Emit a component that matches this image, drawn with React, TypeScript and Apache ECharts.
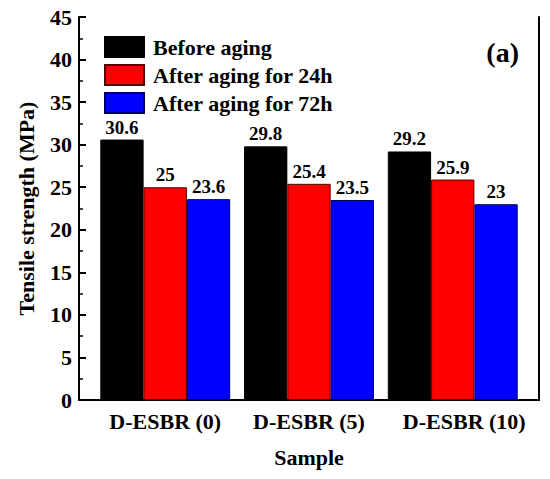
import React, { useEffect, useRef } from "react";
import * as echarts from "echarts";

const categories = ["D-ESBR (0)", "D-ESBR (5)", "D-ESBR (10)"];
const positions = [1, 2, 3];
const beforeAging = [30.6, 29.8, 29.2];
const after24h = [25, 25.4, 25.9];
const after72h = [23.6, 23.5, 23];
const seriesNames = ["Before aging", "After aging for 24h", "After aging for 72h"];
const seriesColors = ["#000000", "#ff0000", "#0000ff"];
const seriesBorders = ["#000000", "#5a0000", "#00005a"];

const FONT = "'Times New Roman', 'Liberation Serif', serif";

export default function App() {
  const ref = useRef<HTMLDivElement>(null);
  useEffect(() => {
    if (!ref.current) return;
    const chart = echarts.init(ref.current, null, { renderer: "svg" });
    const values = [beforeAging, after24h, after72h];
    const axisLine = { show: true, lineStyle: { color: "#000", width: 2 } };
    chart.setOption({
      animation: false,
      backgroundColor: "#fff",
      textStyle: { fontFamily: FONT, fontWeight: "bold", color: "#000" },
      title: {
        text: "(a)",
        right: 26,
        top: 33,
        textStyle: { fontFamily: FONT, fontWeight: "bold", fontSize: 28, color: "#000" },
      },
      legend: {
        orient: "vertical",
        left: 99,
        top: 31,
        itemWidth: 39,
        itemHeight: 20,
        itemGap: 6,
        icon: "rect",
        data: seriesNames,
        textStyle: {
          fontFamily: FONT,
          fontWeight: "bold",
          fontSize: 22,
          color: "#000",
          padding: [0, 0, 0, 4],
        },
      },
      grid: { left: 79, right: 11, top: 17, bottom: 79, containLabel: false },
      xAxis: [
        {
          type: "value",
          min: 0.4,
          max: 3.6,
          position: "bottom",
          axisLine,
          axisTick: { show: false },
          splitLine: { show: false },
          axisLabel: {
            customValues: positions,
            margin: 10,
            fontFamily: FONT,
            fontWeight: "bold",
            fontSize: 22,
            color: "#000",
            formatter: (v: number) => {
              const i = positions.indexOf(Math.round(v));
              if (i === 2) return "{s|" + categories[i] + "}";
              return i >= 0 ? categories[i] : "";
            },
            rich: {
              s: {
                fontFamily: FONT,
                fontWeight: "bold",
                fontSize: 22,
                color: "#000",
                padding: [0, 0, 0, 23],
              },
            },
          },
          name: "Sample",
          nameLocation: "middle",
          nameGap: 46,
          nameTextStyle: { fontFamily: FONT, fontWeight: "bold", fontSize: 22, color: "#000" },
        },
        {
          type: "value",
          min: 0.4,
          max: 3.6,
          position: "top",
          axisLine,
          axisTick: { show: false },
          axisLabel: { show: false },
          splitLine: { show: false },
        },
      ],
      yAxis: [
        {
          type: "value",
          min: 0,
          max: 45,
          interval: 5,
          position: "left",
          axisLine,
          axisTick: { show: true, inside: true, length: 7, lineStyle: { width: 2, color: "#000" } },
          minorTick: { show: true, splitNumber: 2, length: 4, lineStyle: { width: 1.5, color: "#000" } },
          splitLine: { show: false },
          axisLabel: {
            margin: 7,
            fontFamily: FONT,
            fontWeight: "bold",
            fontSize: 22,
            color: "#000",
          },
          name: "Tensile strength (MPa)",
          nameLocation: "middle",
          nameGap: 42,
          nameTextStyle: { fontFamily: FONT, fontWeight: "bold", fontSize: 22, color: "#000" },
        },
        {
          type: "value",
          min: 0,
          max: 45,
          position: "right",
          axisLine,
          axisTick: { show: false },
          axisLabel: { show: false },
          splitLine: { show: false },
        },
      ],
      series: seriesNames.map((name, s) => ({
        name,
        type: "bar",
        xAxisIndex: 0,
        yAxisIndex: 0,
        barWidth: 43.3,
        barGap: "0%",
        data: positions.map((p, i) => [p, values[s][i]]),
        itemStyle: { color: seriesColors[s], borderColor: seriesBorders[s], borderWidth: 1 },
        label: {
          show: true,
          position: "top",
          distance: 3,
          fontFamily: FONT,
          fontWeight: "bold",
          fontSize: 19,
          color: "#000",
          formatter: (p: any) => String(p.value[1]),
        },
      })),
    });
    return () => chart.dispose();
  }, []);
  return (
    <div
      ref={ref}
      style={{ position: "fixed", left: 0, top: 0, width: 550, height: 479 }}
    />
  );
}
